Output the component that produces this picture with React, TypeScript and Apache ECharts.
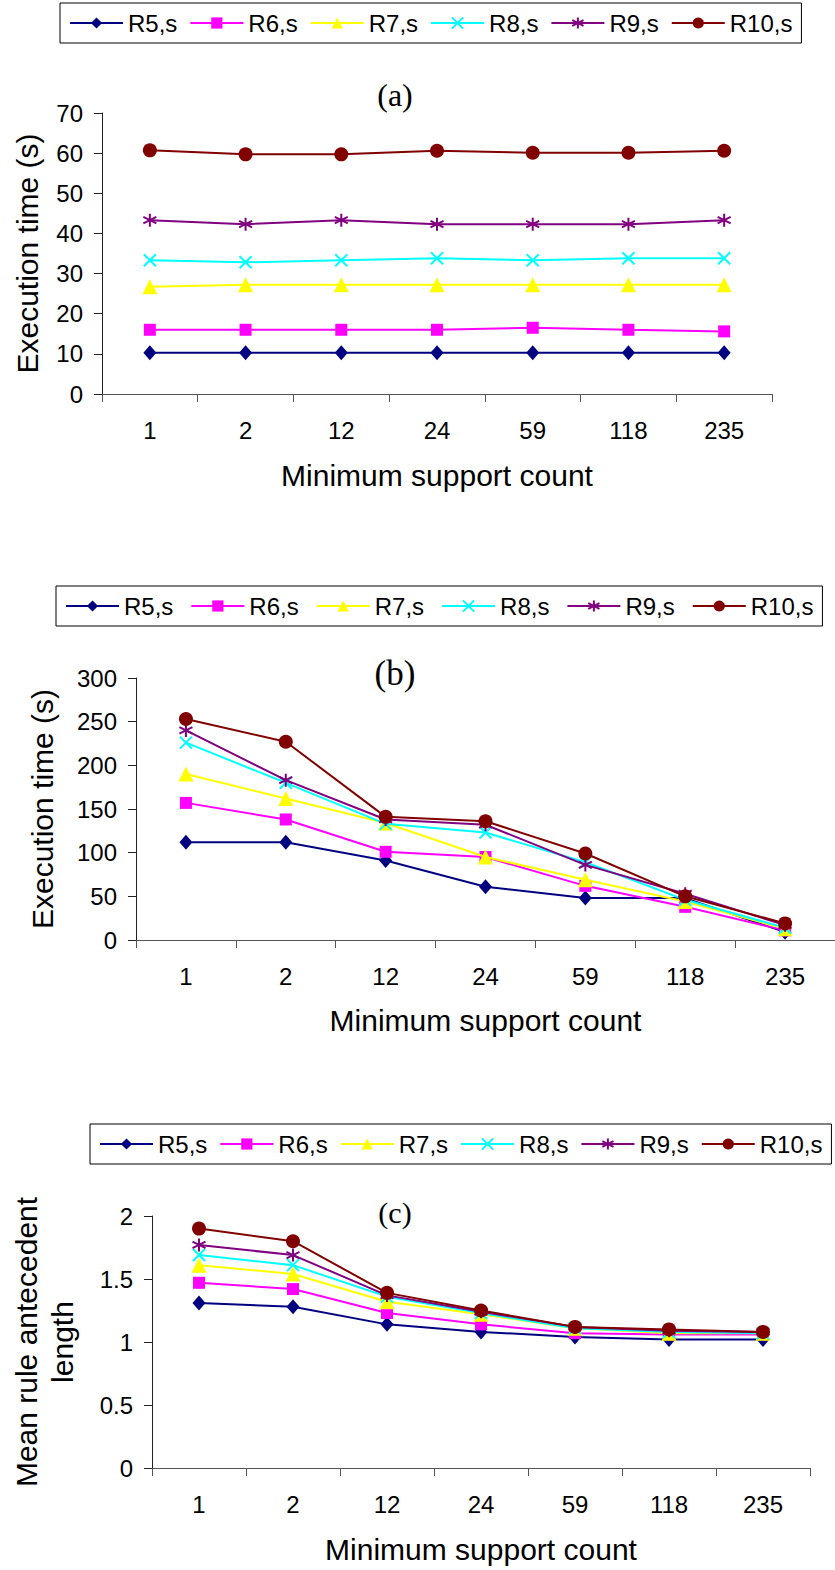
import React, { useEffect, useRef } from "react";
import * as echarts from "echarts";

const FONT = '"Liberation Sans", Arial, sans-serif';
const SERIF = '"Liberation Serif", "Times New Roman", serif';

const categories = ["1", "2", "12", "24", "59", "118", "235"];
const seriesNames = ["R5,s", "R6,s", "R7,s", "R8,s", "R9,s", "R10,s"];
const panelLabels = ["(a)", "(b)", "(c)"];
const xAxisName = "Minimum support count";
const yAxisNames = ["Execution time (s)", "Execution time (s)", "Mean rule antecedent\nlength"];

// Panel (a): execution time (s)
const aR5 = [10.3, 10.3, 10.3, 10.3, 10.3, 10.3, 10.3];
const aR6 = [16.0, 16.0, 16.0, 16.0, 16.5, 16.0, 15.6];
const aR7 = [26.7, 27.2, 27.2, 27.2, 27.2, 27.2, 27.2];
const aR8 = [33.3, 32.8, 33.3, 33.8, 33.3, 33.8, 33.8];
const aR9 = [43.3, 42.3, 43.3, 42.3, 42.3, 42.3, 43.3];
const aR10 = [60.7, 59.7, 59.7, 60.6, 60.1, 60.1, 60.6];

// Panel (b): execution time (s)
const bR5 = [112, 112, 91, 61, 48, 48, 9];
const bR6 = [157, 138, 101, 95, 62, 38, 11];
const bR7 = [190, 162, 134, 95, 69, 44, 13];
const bR8 = [226, 180, 133, 123, 89, 46, 14];
const bR9 = [240, 183, 138, 132, 86, 53, 17];
const bR10 = [253, 227, 141, 136, 99, 50, 19];

// Panel (c): mean rule antecedent length
const cR5 = [1.31, 1.28, 1.14, 1.08, 1.04, 1.02, 1.02];
const cR6 = [1.47, 1.42, 1.23, 1.14, 1.07, 1.06, 1.06];
const cR7 = [1.61, 1.54, 1.32, 1.22, 1.11, 1.07, 1.07];
const cR8 = [1.69, 1.61, 1.36, 1.23, 1.11, 1.08, 1.07];
const cR9 = [1.77, 1.69, 1.37, 1.24, 1.12, 1.09, 1.08];
const cR10 = [1.9, 1.8, 1.39, 1.25, 1.12, 1.1, 1.08];

const panelData = [
  [aR5, aR6, aR7, aR8, aR9, aR10],
  [bR5, bR6, bR7, bR8, bR9, bR10],
  [cR5, cR6, cR7, cR8, cR9, cR10],
];

const yMax = [70, 300, 2];
const yInterval = [10, 50, 0.5];

const seriesStyles = [
  { symbol: "diamond", size: [13, 15], color: "#000080", stroke: false },
  { symbol: "rect", size: 12, color: "#FF00FF", stroke: false },
  { symbol: "triangle", size: 15, color: "#FFFF00", stroke: false },
  { symbol: "path://M0,0L10,10M0,10L10,0", size: 12, color: "#00FFFF", stroke: true },
  { symbol: "path://M5,0L5,10M0.7,2.5L9.3,7.5M0.7,7.5L9.3,2.5", size: 13, color: "#800080", stroke: true },
  { symbol: "circle", size: 14, color: "#800000", stroke: false },
];

const grids = [
  { left: 102, top: 113, width: 670, height: 281 },
  { left: 136, top: 678, width: 699, height: 262 },
  { left: 141, top: 1216, width: 669, height: 252 },
];

const legendPos = [
  { left: 60, top: 3, itemGap: 12 },
  { left: 56, top: 586, itemGap: 17 },
  { left: 90, top: 1124, itemGap: 12 },
];

const titlePos = [
  { x: 395, y: 95, size: 32 },
  { x: 395, y: 673, size: 35 },
  { x: 395, y: 1212, size: 30 },
];

const yNameGap = [57, 76, 72];
const xNameGap = [66, 65, 66];

export default function App() {
  const ref = useRef<HTMLDivElement>(null);

  useEffect(() => {
    if (!ref.current) return;
    const chart = echarts.init(ref.current, null, { renderer: "svg" });

    const xAxis = grids.map((_, gi) => ({
      type: "category",
      gridIndex: gi,
      data: categories,
      boundaryGap: true,
      axisLine: { show: true, lineStyle: { color: "#555", width: 1 } },
      axisTick: { show: true, length: 8, lineStyle: { color: "#555" } },
      axisLabel: { margin: 24, fontSize: 24, color: "#000", fontFamily: FONT },
      splitLine: { show: false },
      name: xAxisName,
      nameLocation: "middle",
      nameGap: xNameGap[gi],
      nameTextStyle: { fontSize: 30, color: "#000", fontFamily: FONT },
    }));

    const yAxis = grids.map((_, gi) => ({
      type: "value",
      gridIndex: gi,
      min: 0,
      max: yMax[gi],
      interval: yInterval[gi],
      axisLine: { show: true, lineStyle: { color: "#222", width: 1 } },
      axisTick: { show: true, length: 8, lineStyle: { color: "#222" } },
      axisLabel: { margin: 19, fontSize: 24, color: "#000", fontFamily: FONT },
      splitLine: { show: false },
      name: yAxisNames[gi],
      nameLocation: "middle",
      nameRotate: 90,
      nameGap: yNameGap[gi],
      nameTextStyle: { fontSize: 30, color: "#000", fontFamily: FONT, lineHeight: 36 },
    }));

    const series: any[] = [];
    panelData.forEach((arrs, gi) => {
      arrs.forEach((vals, si) => {
        const st = seriesStyles[si];
        series.push({
          type: "line",
          name: seriesNames[si],
          xAxisIndex: gi,
          yAxisIndex: gi,
          data: vals,
          symbol: st.symbol,
          symbolSize: st.size,
          showSymbol: true,
          lineStyle: { color: st.color, width: 2 },
          itemStyle: st.stroke
            ? { color: st.color, borderColor: st.color, borderWidth: 2 }
            : { color: st.color, borderWidth: 0 },
          emphasis: { disabled: true },
          z: 2 + si,
        });
      });
    });

    const legend = legendPos.map((lp) => ({
      data: seriesNames,
      left: lp.left,
      top: lp.top,
      orient: "horizontal",
      itemGap: lp.itemGap,
      itemWidth: 53,
      itemHeight: 14,
      padding: [8, 9],
      borderColor: "#000",
      borderWidth: 1,
      selectedMode: false,
      textStyle: { fontSize: 24, color: "#000", fontFamily: FONT },
    }));

    const graphic = panelLabels.map((t, i) => ({
      type: "text",
      x: titlePos[i].x,
      y: titlePos[i].y,
      style: {
        text: t,
        fontSize: titlePos[i].size,
        fontFamily: SERIF,
        fill: "#000",
        align: "center",
        verticalAlign: "middle",
      },
    }));

    chart.setOption({
      animation: false,
      backgroundColor: "#fff",
      grid: grids,
      xAxis,
      yAxis,
      legend,
      series,
      graphic,
    });

    return () => chart.dispose();
  }, []);

  return (
    <div
      ref={ref}
      style={{ position: "absolute", left: 0, top: 0, width: 835, height: 1570, background: "#fff" }}
    />
  );
}
